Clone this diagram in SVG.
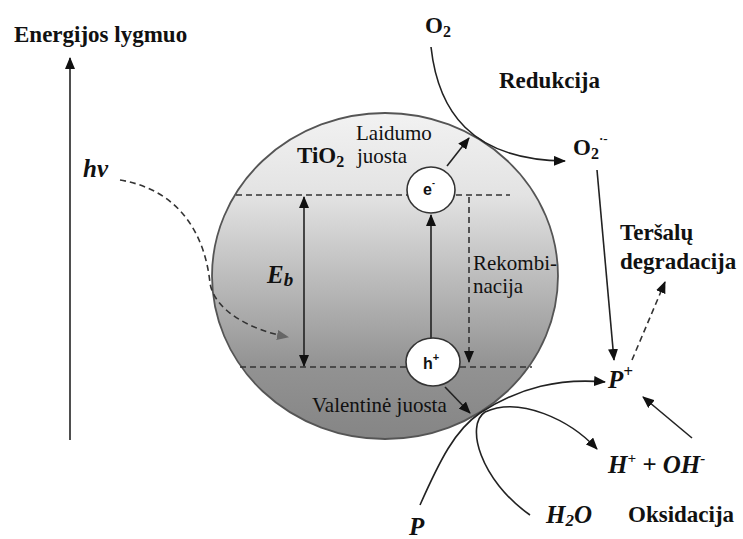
<svg xmlns="http://www.w3.org/2000/svg" width="743" height="539" viewBox="0 0 743 539">
<defs>
<linearGradient id="grad" gradientUnits="userSpaceOnUse" x1="0" y1="113" x2="0" y2="439">
<stop offset="0" stop-color="#f2f2f2"/>
<stop offset="0.25" stop-color="#e3e3e3"/>
<stop offset="0.5" stop-color="#bdbdbd"/>
<stop offset="0.78" stop-color="#929292"/>
<stop offset="1" stop-color="#858585"/>
</linearGradient>
<marker id="ah" markerUnits="userSpaceOnUse" markerWidth="12" markerHeight="10" refX="11" refY="5" orient="auto">
<path d="M0,0 L12,5 L0,10 z" fill="#111"/>
</marker>
<marker id="ahs" markerUnits="userSpaceOnUse" markerWidth="12" markerHeight="10" refX="11" refY="5" orient="auto-start-reverse">
<path d="M0,0 L12,5 L0,10 z" fill="#111"/>
</marker>
<marker id="ahg" markerUnits="userSpaceOnUse" markerWidth="12" markerHeight="10" refX="11" refY="5" orient="auto">
<path d="M0,0 L12,5 L0,10 z" fill="#666"/>
</marker>
</defs>
<style>
.b{font-family:"Liberation Serif",serif;font-weight:bold;font-size:23px;fill:#111}
.r{font-family:"Liberation Serif",serif;font-size:21px;fill:#111}
.bi{font-family:"Liberation Serif",serif;font-weight:bold;font-style:italic;font-size:25px;fill:#111}
.s{font-family:"Liberation Sans",sans-serif;font-weight:bold;font-size:16px;fill:#111}
.ln{fill:none;stroke:#222;stroke-width:1.6}
.dl{fill:none;stroke:#333;stroke-width:1.6;stroke-dasharray:6 4}
.bub{fill:#fff;stroke:#333;stroke-width:1.6}
</style>
<rect width="743" height="539" fill="#fff"/>

<g id="tio2-particle">
<ellipse cx="385" cy="276" rx="173" ry="163" fill="url(#grad)" stroke="#555" stroke-width="1.8"/>
<line class="dl" x1="236" y1="195" x2="510" y2="195"/>
<line class="dl" x1="240" y1="367" x2="532" y2="367"/>
<text class="b" x="297" y="163">TiO<tspan font-size="16" dy="4">2</tspan></text>
</g>

<g id="axis">
<text class="b" font-size="24" x="14" y="42">Energijos lygmuo</text>
</g>

<g id="hv"><text class="bi" x="83" y="177">hv</text></g>

<g id="eb"><text class="bi" font-size="27" x="267" y="283">E<tspan font-size="19" dy="3">b</tspan></text></g>

<g id="laidumo">
<text class="r" x="356" y="140">Laidumo</text>
<text class="r" x="357" y="163">juosta</text>
</g>

<g id="valentine"><text class="r" x="312" y="412">Valentinė juosta</text></g>

<g id="rekombinacija">
<text class="r" x="473" y="270">Rekombi-</text>
<text class="r" x="473" y="293">nacija</text>
</g>

<g id="connectors">
<line class="ln" x1="70" y1="440" x2="70" y2="58" marker-end="url(#ah)"/>
<path class="dl" stroke="#444" d="M120,180 C180,190 205,235 210,283 C214,310 250,330 288,337" marker-end="url(#ahg)"/>
<line class="ln" x1="304" y1="197" x2="304" y2="366" marker-start="url(#ahs)" marker-end="url(#ah)"/>
<line class="ln" x1="431" y1="338" x2="431" y2="215" marker-end="url(#ah)"/>
<line class="dl" x1="469" y1="197" x2="469" y2="362" marker-end="url(#ah)"/>
<line class="ln" x1="447" y1="166" x2="469" y2="138" marker-end="url(#ah)"/>
<line class="ln" x1="445" y1="387" x2="470" y2="413" marker-end="url(#ah)"/>
<path class="ln" d="M431,47 C438,110 470,160 565,161" marker-end="url(#ah)"/>
<line class="ln" x1="597" y1="170" x2="614" y2="360" marker-end="url(#ah)"/>
<line class="dl" x1="632" y1="360" x2="665" y2="282" marker-end="url(#ah)"/>
<line class="ln" x1="692" y1="438" x2="643" y2="397" marker-end="url(#ah)"/>
<path class="ln" d="M420,505 C440,460 455,430 480,413 C520,387 560,378 605,382" marker-end="url(#ah)"/>
<path class="ln" d="M530,515 C480,480 465,425 485,412 C520,396 570,420 597,449" marker-end="url(#ah)"/>
</g>

<g id="electron">
<ellipse class="bub" cx="431" cy="190" rx="24" ry="23"/>
<text class="s" x="423" y="195">e<tspan font-size="9" dy="-9">-</tspan></text>
</g>

<g id="hole">
<ellipse class="bub" cx="433" cy="362" rx="27" ry="24"/>
<text class="s" x="423" y="369">h<tspan font-size="11" dy="-8">+</tspan></text>
</g>

<g id="o2"><text class="b" font-size="22" x="425" y="33">O<tspan font-size="16" dy="4">2</tspan></text></g>
<g id="redukcija"><text class="b" x="499" y="88">Redukcija</text></g>
<g id="o2-radical"><text class="b" font-size="22" x="573" y="155">O<tspan font-size="16" dy="4">2</tspan><tspan font-size="13" dy="-16">·-</tspan></text></g>
<g id="degradacija">
<text class="b" x="620" y="240">Teršalų</text>
<text class="b" x="620" y="269">degradacija</text>
</g>
<g id="p-plus"><text class="bi" x="608" y="388">P<tspan font-size="17" dy="-11">+</tspan></text></g>
<g id="h-oh"><text class="bi" font-size="26" x="608" y="473">H<tspan font-size="15" dy="-10">+</tspan><tspan dy="10"> + OH</tspan><tspan font-size="15" dy="-10">-</tspan></text></g>
<g id="p"><text class="bi" font-size="26" x="409" y="535">P</text></g>
<g id="h2o"><text class="bi" x="546" y="523">H<tspan font-size="17" dy="3">2</tspan><tspan dy="-3">O</tspan></text></g>
<g id="oksidacija"><text class="b" x="628" y="522">Oksidacija</text></g>
</svg>
